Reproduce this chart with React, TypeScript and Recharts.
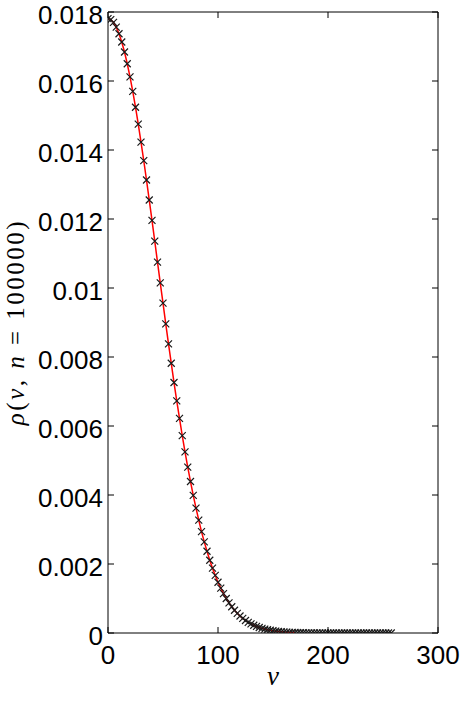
import { Line, LineChart, ReferenceArea, XAxis, YAxis } from "recharts"

// speed v, sampled every 2.5
const vValues = [
  0, 2.5, 5, 7.5, 10, 12.5, 15, 17.5, 20, 22.5, 25, 27.5, 30, 32.5, 35, 37.5, 40, 42.5, 45, 47.5,
  50, 52.5, 55, 57.5, 60, 62.5, 65, 67.5, 70, 72.5, 75, 77.5, 80, 82.5, 85, 87.5, 90, 92.5, 95, 97.5,
  100, 102.5, 105, 107.5, 110, 112.5, 115, 117.5, 120, 122.5, 125, 127.5, 130, 132.5, 135, 137.5, 140, 142.5, 145, 147.5,
  150, 152.5, 155, 157.5, 160, 162.5, 165, 167.5, 170, 172.5, 175, 177.5, 180, 182.5, 185, 187.5, 190, 192.5, 195, 197.5,
  200, 202.5, 205, 207.5, 210, 212.5, 215, 217.5, 220, 222.5, 225, 227.5, 230, 232.5, 235, 237.5, 240, 242.5, 245, 247.5,
  250, 252.5, 255, 257.5,
]

// simulated density (x markers)
const rhoSim = [
  0.01781, 0.01778, 0.0177, 0.01756, 0.01737, 0.01713, 0.01684, 0.0165, 0.01612, 0.0157,
  0.01524, 0.01475, 0.01423, 0.01369, 0.01313, 0.01255, 0.01196, 0.01136, 0.01075, 0.01015,
  0.00956, 0.00896, 0.00838, 0.00782, 0.00726, 0.00673, 0.00622, 0.00572, 0.00525, 0.00481,
  0.00439, 0.00399, 0.00362, 0.00327, 0.00294, 0.00264, 0.00237, 0.00211, 0.00188, 0.00167,
  0.00147, 0.0013, 0.00114, 0.001, 0.000874, 0.000761, 0.00066, 0.000571, 0.000493, 0.000424,
  0.000363, 0.00031, 0.000264, 0.000224, 0.00019, 0.00016, 0.000135, 0.000113, 0.0000945, 0.0000788,
  0.0000655, 0.0000543, 0.0000448, 0.0000369, 0.0000302, 0.0000247, 0.0000201, 0.0000164, 0.0000133, 0.0000107,
  0.0000086, 0.0000069, 0.0000055, 0.0000044, 0.0000035, 0.0000027, 0.0000021, 0.0000016, 0.0000012, 0.0000009,
  0.0000007, 0.0000005, 0, 0, 0, 0, 0, 0, 0, 0,
  0, 0, 0, 0, 0, 0, 0, 0, 0, 0,
  0, 0, 0, 0,
]

// theoretical curve (red), drawn up to v = 170
const rhoTheory = [
  0.01781, 0.01778, 0.0177, 0.01756, 0.01737, 0.01713, 0.01684, 0.0165, 0.01612, 0.0157,
  0.01524, 0.01475, 0.01423, 0.01369, 0.01313, 0.01255, 0.01196, 0.01136, 0.01075, 0.01015,
  0.00956, 0.00896, 0.00838, 0.00782, 0.00726, 0.00673, 0.00622, 0.00572, 0.00525, 0.00481,
  0.00439, 0.00399, 0.00362, 0.00327, 0.00294, 0.00264, 0.00237, 0.00211, 0.00188, 0.00167,
  0.00147, 0.0013, 0.00114, 0.001, 0.000874, 0.000761, 0.00066, 0.000571, 0.000493, 0.000424,
  0.000363, 0.00031, 0.000264, 0.000224, 0.00019, 0.00016, 0.000135, 0.000113, 0.0000945, 0.0000788,
  0.0000655, 0.0000543, 0.0000448, 0.0000369, 0.0000302, 0.0000247, 0.0000201, 0.0000164, 0.0000133,
]

const xTicks = [0, 100, 200, 300]
const yTicks = [0, 0.002, 0.004, 0.006, 0.008, 0.01, 0.012, 0.014, 0.016, 0.018]

const W = 469
const H = 707
const PLOT_LEFT = 108
const PLOT_RIGHT = 438
const PLOT_TOP = 12
const PLOT_BOTTOM = 633
const TICK_LEN = 6
const TICK_FONT = "'Liberation Sans', Arial, Helvetica, sans-serif"
const MATH_FONT = "'Liberation Serif', 'Times New Roman', serif"

const data = vValues.map((v, i) => ({
  v,
  sim: rhoSim[i],
  theory: i < rhoTheory.length ? rhoTheory[i] : null,
}))

function XTick(props: any) {
  const { x, payload } = props
  return (
    <g>
      <line x1={x} x2={x} y1={PLOT_BOTTOM} y2={PLOT_BOTTOM - TICK_LEN} stroke="#000" />
      <line x1={x} x2={x} y1={PLOT_TOP} y2={PLOT_TOP + TICK_LEN} stroke="#000" />
      <text x={x} y={664} textAnchor="middle" fontFamily={TICK_FONT} fontSize={26} fill="#000">
        {payload.value}
      </text>
    </g>
  )
}

function YTick(props: any) {
  const { y, payload } = props
  return (
    <g>
      <line x1={PLOT_LEFT} x2={PLOT_LEFT + TICK_LEN} y1={y} y2={y} stroke="#000" />
      <line x1={PLOT_RIGHT} x2={PLOT_RIGHT - TICK_LEN} y1={y} y2={y} stroke="#000" />
      <text x={103} y={y + 12} textAnchor="end" fontFamily={TICK_FONT} fontSize={26} fill="#000">
        {Number(payload.value.toFixed(3)).toString()}
      </text>
    </g>
  )
}

function Cross(props: any) {
  const { cx, cy, key } = props
  if (cx == null || cy == null) return <g key={key} />
  const s = 3.5
  return (
    <path
      key={key}
      d={`M${cx - s},${cy - s}L${cx + s},${cy + s}M${cx - s},${cy + s}L${cx + s},${cy - s}`}
      stroke="#1a1a1a"
      strokeWidth={1.2}
      fill="none"
    />
  )
}

function YLabel() {
  return (
    <text
      transform="rotate(-90)"
      x={-322}
      y={24}
      textAnchor="middle"
      fontFamily={MATH_FONT}
      fontSize={25}
      letterSpacing={2.5}
      fill="#000"
    >
      <tspan fontStyle="italic">ρ</tspan>
      <tspan>(</tspan>
      <tspan fontStyle="italic">v</tspan>
      <tspan>, </tspan>
      <tspan fontStyle="italic">n</tspan>
      <tspan> = 100000)</tspan>
    </text>
  )
}

function XLabel() {
  return (
    <text x={273} y={685} textAnchor="middle" fontFamily={MATH_FONT} fontStyle="italic" fontSize={27} fill="#000">
      v
    </text>
  )
}

export default function App() {
  return (
    <div style={{ position: "absolute", left: 0, top: 0, width: W, height: H, background: "#fff" }}>
      <LineChart width={W} height={H} data={data} margin={{ top: PLOT_TOP, right: W - PLOT_RIGHT, bottom: 0, left: 0 }}>
        <XAxis
          type="number"
          dataKey="v"
          domain={[0, 300]}
          ticks={xTicks}
          height={H - PLOT_BOTTOM}
          axisLine={false}
          tickLine={false}
          tick={<XTick />}
          label={<XLabel />}
          allowDataOverflow
        />
        <YAxis
          type="number"
          domain={[0, 0.018]}
          ticks={yTicks}
          width={PLOT_LEFT}
          axisLine={false}
          tickLine={false}
          tick={<YTick />}
          label={<YLabel />}
          allowDataOverflow
        />
        <Line dataKey="sim" stroke="none" dot={Cross} activeDot={false} isAnimationActive={false} legendType="none" />
        <Line
          dataKey="theory"
          stroke="#ff0000"
          strokeWidth={1.5}
          dot={false}
          activeDot={false}
          isAnimationActive={false}
          legendType="none"
        />
        <ReferenceArea x1={0} x2={300} y1={0} y2={0.018} fill="none" stroke="#000" strokeWidth={1} ifOverflow="visible" />
      </LineChart>
    </div>
  )
}
